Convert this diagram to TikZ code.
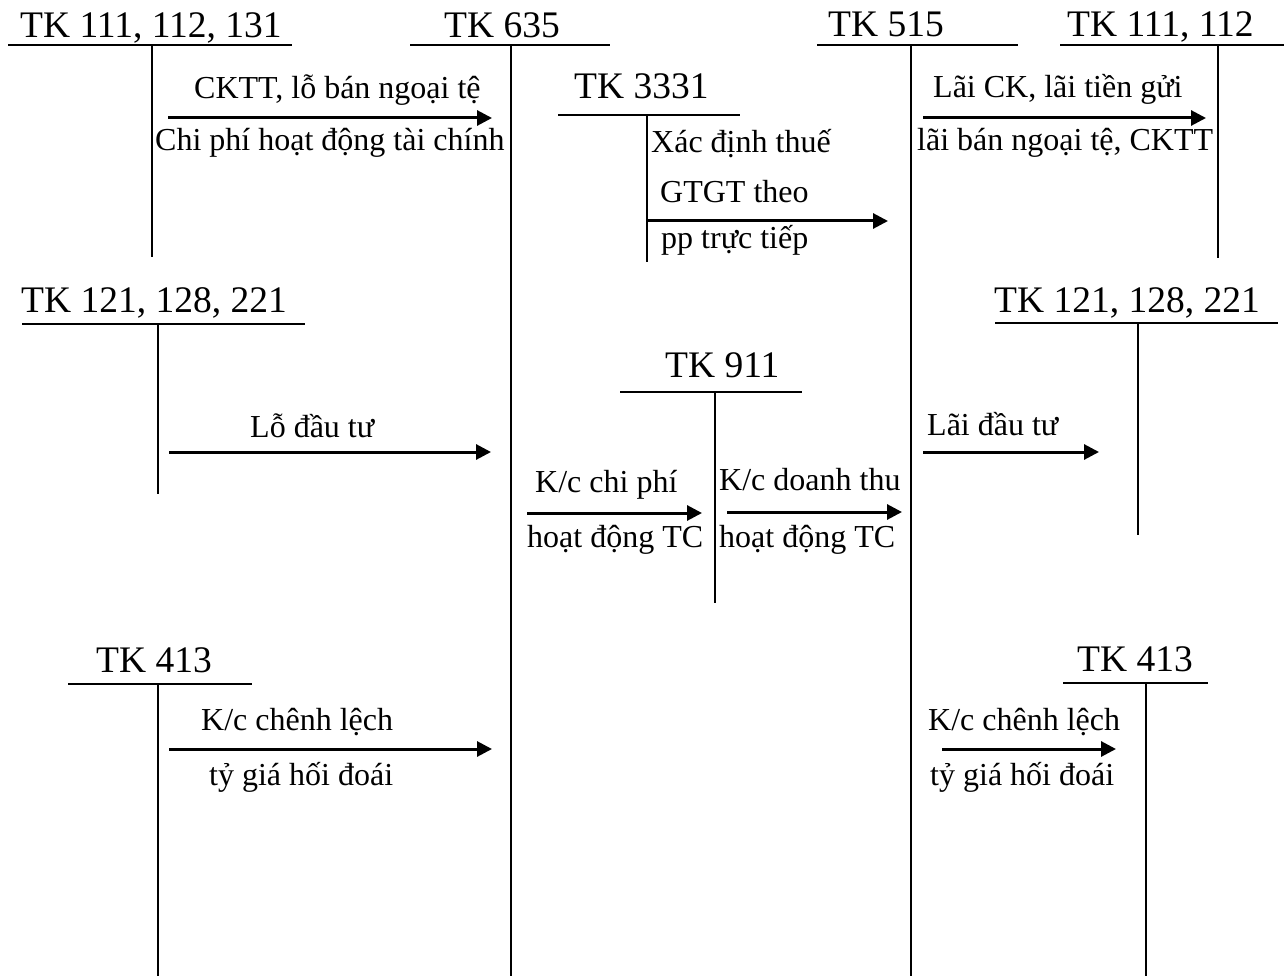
\documentclass[tikz,border=0pt]{standalone}
\usepackage{fontspec}
\setmainfont{Liberation Serif}
\usetikzlibrary{arrows.meta}
\begin{document}
\begin{tikzpicture}[x=1pt,y=-1pt,
  acct/.style={inner sep=0pt,anchor=base west,font=\fontsize{37.5}{42}\selectfont},
  lbl/.style={inner sep=0pt,anchor=base west,font=\fontsize{32}{38}\selectfont},
  tline/.style={line width=1.8pt},
  flow/.style={line width=3pt,-{Triangle[length=15pt,width=15pt]}}]
\useasboundingbox (0,0) rectangle (1284,976);

% account headings
\node[acct] (h1) at (20,38) {TK 111, 112, 131};
\node[acct] (h2) at (444,38) {TK 635};
\node[acct] (h3) at (574,99) {TK 3331};
\node[acct] (h4) at (828,37) {TK 515};
\node[acct] (h5) at (1067,37) {TK 111, 112};
\node[acct] (h6) at (21,312) {TK 121, 128, 221};
\node[acct] (h7) at (665,377) {TK 911};
\node[acct] (h8) at (994,312) {TK 121, 128, 221};
\node[acct] (h9) at (96,672) {TK 413};
\node[acct] (h10) at (1077,671) {TK 413};

% T-account bars
\draw[tline] (8,45) -- (292,45) (152,45) -- (152,257);
\draw[tline] (410,45) -- (610,45) (511,45) -- (511,976);
\draw[tline] (558,115) -- (740,115) (647,115) -- (647,262);
\draw[tline] (817,45) -- (1018,45) (911,45) -- (911,976);
\draw[tline] (1060,45) -- (1284,45) (1218,45) -- (1218,258);
\draw[tline] (22,324) -- (305,324) (158,324) -- (158,494);
\draw[tline] (620,392) -- (802,392) (715,392) -- (715,603);
\draw[tline] (995,323) -- (1278,323) (1138,323) -- (1138,535);
\draw[tline] (68,684) -- (252,684) (158,684) -- (158,976);
\draw[tline] (1063,683) -- (1208,683) (1146,683) -- (1146,976);

% arrow end points
\coordinate (s1) at (168,118);  \coordinate (e1) at (492,118);
\coordinate (s2) at (648,221);  \coordinate (e2) at (888,221);
\coordinate (s3) at (923,118);  \coordinate (e3) at (1206,118);
\coordinate (s4) at (169,452);  \coordinate (e4) at (491,452);
\coordinate (s5) at (527,513);  \coordinate (e5) at (702,513);
\coordinate (s6) at (727,512);  \coordinate (e6) at (902,512);
\coordinate (s7) at (923,452);  \coordinate (e7) at (1099,452);
\coordinate (s8) at (169,749);  \coordinate (e8) at (492,749);
\coordinate (s9) at (942,749);  \coordinate (e9) at (1116,749);

\draw[flow] (s1) -- (e1);
\draw[flow] (s2) -- (e2);
\draw[flow] (s3) -- (e3);
\draw[flow] (s4) -- (e4);
\draw[flow] (s5) -- (e5);
\draw[flow] (s6) -- (e6);
\draw[flow] (s7) -- (e7);
\draw[flow] (s8) -- (e8);
\draw[flow] (s9) -- (e9);

% labels
\node[lbl] (l1a) at (194,99) {CKTT, lỗ bán ngoại tệ};
\node[lbl] (l1b) at (155,151) {Chi phí hoạt động tài chính};
\node[lbl] (l2a) at (651,153) {Xác định thuế};
\node[lbl] (l2b) at (660,203) {GTGT theo};
\node[lbl] (l2c) at (661,248) {pp trực tiếp};
\node[lbl] (l3a) at (933,98) {Lãi CK, lãi tiền gửi};
\node[lbl] (l3b) at (917,151) {lãi bán ngoại tệ, CKTT};
\node[lbl] (l4) at (250,437) {Lỗ đầu tư};
\node[lbl] (l5a) at (535,492) {K/c chi phí};
\node[lbl] (l5b) at (527,547) {hoạt động TC};
\node[lbl] (l6a) at (719,490) {K/c doanh thu};
\node[lbl] (l6b) at (719,547) {hoạt động TC};
\node[lbl] (l7) at (927,435) {Lãi đầu tư};
\node[lbl] (l8a) at (201,730) {K/c chênh lệch};
\node[lbl] (l8b) at (209,785) {tỷ giá hối đoái};
\node[lbl] (l9a) at (928,730) {K/c chênh lệch};
\node[lbl] (l9b) at (930,785) {tỷ giá hối đoái};
\end{tikzpicture}
\end{document}
